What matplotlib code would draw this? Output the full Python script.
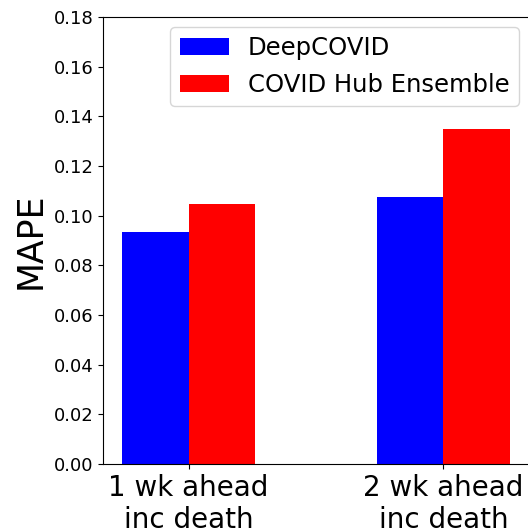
import matplotlib
matplotlib.use("Agg")
import matplotlib.pyplot as plt
import numpy as np

labels = ["1 wk ahead\ninc death", "2 wk ahead\ninc death"]
deepcovid = [0.0933, 0.1075]
hub_ensemble = [0.1048, 0.1347]

fig = plt.figure(figsize=(5.28, 5.31), dpi=100)
ax = fig.add_axes([103 / 528, 1 - 464 / 531, 1 - 103 / 528 + 0.002, (464 - 17) / 531])

x_pos = np.arange(len(labels))
width = 0.26
ax.bar(x_pos - width / 2, deepcovid, width, color="blue", label="DeepCOVID")
ax.bar(x_pos + width / 2, hub_ensemble, width, color="red", label="COVID Hub Ensemble")

ax.set_ylim(0, 0.18)
ax.set_yticks(np.arange(0, 0.181, 0.02))
ax.set_xticks(x_pos)
ax.set_xticklabels(labels, fontsize=20)
ax.tick_params(axis="y", labelsize=13)
ax.set_ylabel("MAPE", fontsize=25)
ax.legend(fontsize=17.5, loc="upper right", borderaxespad=0.4)

fig.savefig("out.png", dpi=100)
